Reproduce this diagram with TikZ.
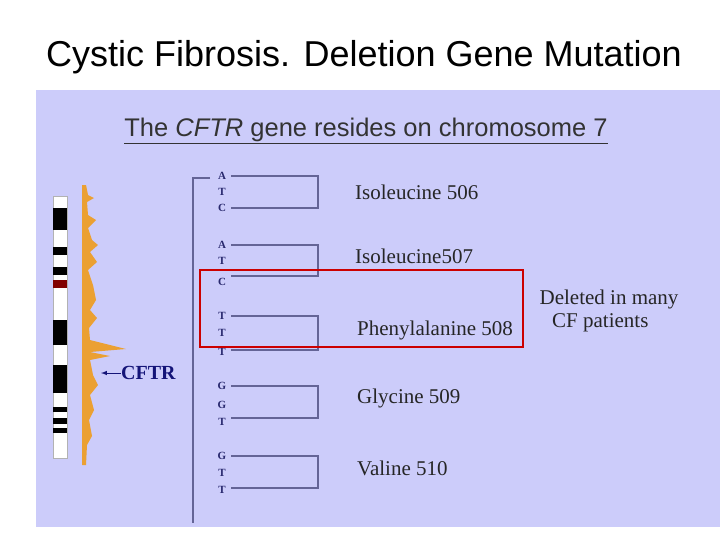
\documentclass[tikz,border=0pt]{standalone}
\usepackage{fontspec}
\setmainfont{Liberation Serif}
\newfontfamily\sansf{Liberation Sans}
\definecolor{panel}{RGB}{204,204,250}
\definecolor{brk}{RGB}{100,100,150}
\definecolor{dna}{RGB}{40,40,110}
\definecolor{orng}{RGB}{235,160,50}
\definecolor{cfblue}{RGB}{20,20,120}
\tikzset{
 base/.style={font=\fontsize{11}{12}\selectfont\bfseries, text=dna, inner sep=0},
 amino/.style={font=\fontsize{21}{22}\selectfont, text=black!85, anchor=west, inner sep=0},
 brkline/.style={draw=brk, line width=1.2pt},
}
\begin{document}
\begin{tikzpicture}[x=1pt,y=-1pt]
\useasboundingbox (0,0) rectangle (728,546);
\fill[white] (0,0) rectangle (728,546);
\node[font=\sansf\fontsize{36}{40}\selectfont, anchor=west, inner sep=0] (title) at (46,57) {Cystic Fibrosis. Deletion Gene Mutation};
\fill[panel] (36,90) rectangle (720,527);
\node[font=\sansf\fontsize{25.5}{28}\selectfont, text=black!80, inner sep=0] (head) at (366,131) {\underline{The \textit{CFTR} gene resides on chromosome 7}};
% chromosome ideogram
\fill[white] (53,196) rectangle (67,458);
\draw[gray!60] (53,196) rectangle (67,458);
\foreach \a/\b in {208/230,247/255,267/275,320/345,365/393,407/412,418/424,428/433}
  \fill[black] (53,\a) rectangle (67,\b);
\fill[red!50!black] (53,280) rectangle (67,288);
% orange trace
\fill[orng] (82,185) -- (86,185) -- (88,195) -- (94,198) -- (87,202) -- (88,215) -- (96,220) -- (88,228) -- (92,240) -- (98,245) -- (90,252) -- (97,262) -- (88,270) -- (93,285) -- (96,300) -- (90,310) -- (97,318) -- (89,328) -- (90,340) -- (126,349) -- (90,352) -- (110,356) -- (90,360) -- (93,375) -- (98,385) -- (90,395) -- (94,410) -- (89,420) -- (92,436) -- (87,445) -- (86,465) -- (82,465) -- cycle;
\node[font=\fontsize{20}{22}\selectfont\bfseries, text=cfblue, anchor=west, inner sep=0] (cftr) at (121,373) {CFTR};
\draw[cfblue, line width=1pt, -{latex}] (cftr.west) -- ++(-20,0);
% big bracket
\coordinate (bt) at (193,178);
\coordinate (bb) at (193,523);
\draw[brkline] (210,178) -- (bt) -- (bb);
% bases
\foreach \l/\y [count=\i] in {A/176,T/192,C/208,A/245,T/261,C/282,T/316,T/333,T/352,G/386,G/405,T/422,G/456,T/473,T/490}
  \node[base] (b\i) at (222,\y) {\l};
% codon brackets
\foreach \t/\b in {176/208,245/276,316/350,386/418,456/488}
  \draw[brkline] (231,\t) -- (318,\t) -- (318,\b) -- (231,\b);
\node[amino] (aa1) at (355,192) {Isoleucine 506};
\node[amino] (aa2) at (355,256) {Isoleucine507};
\node[amino] (aa3) at (357,330) {Phenylalanine 508};
\node[amino] (aa4) at (357,398) {Glycine 509};
\node[amino] (aa5) at (357,468) {Valine 510};
\draw[red!80!black, line width=1.5pt] (200,270) rectangle (523,347);
\node[font=\fontsize{21}{23}\selectfont, text=black!85, align=left, inner sep=0] (del) at (609,311) {Deleted in many\\\hspace{0.6em}CF patients};
\end{tikzpicture}
\end{document}
